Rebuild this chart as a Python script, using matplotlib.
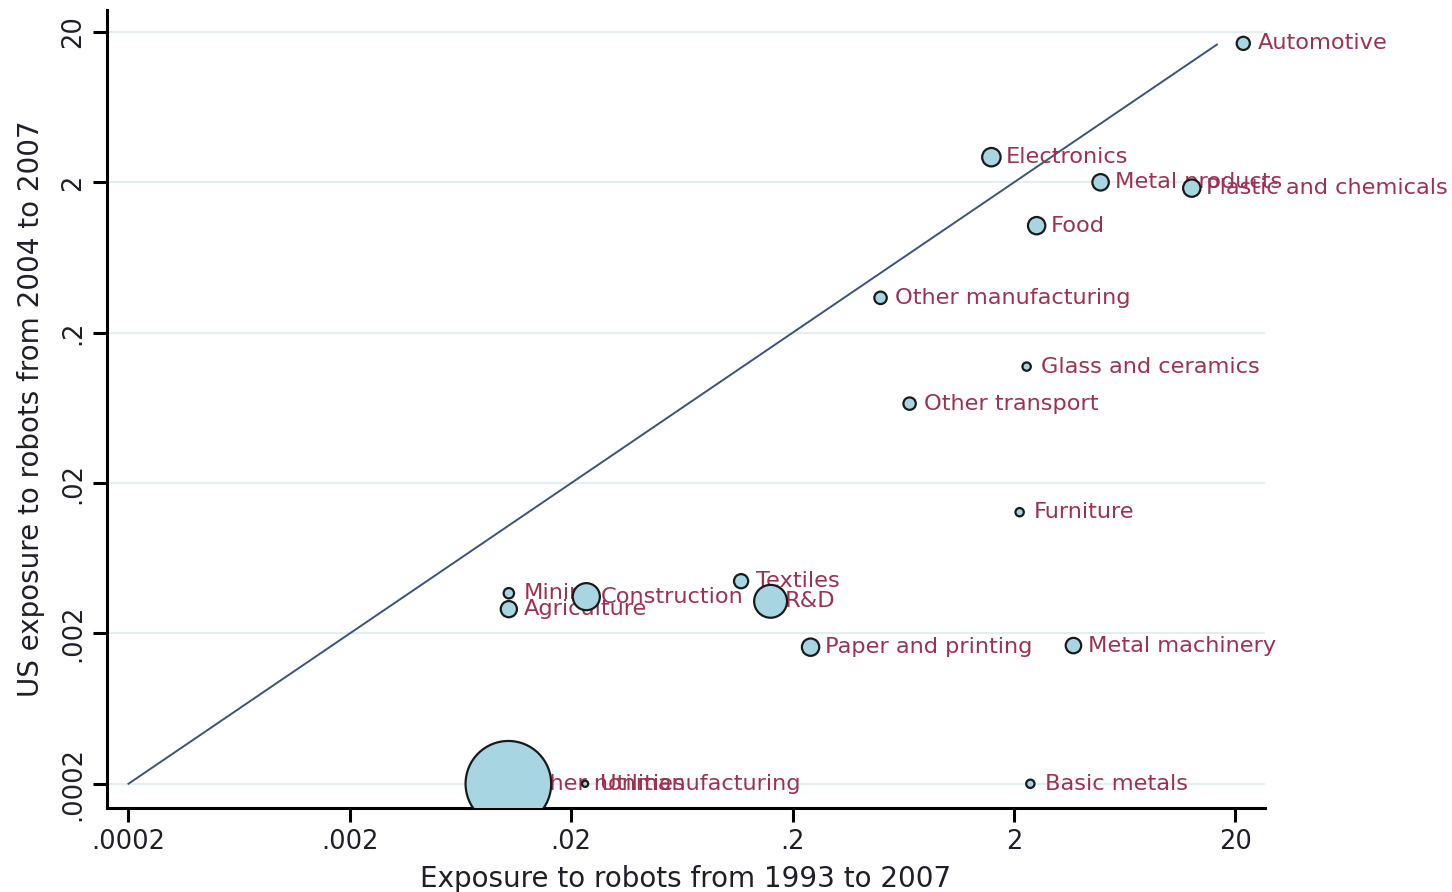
import matplotlib
matplotlib.use("Agg")
import matplotlib.pyplot as plt
from matplotlib.ticker import FixedLocator, FixedFormatter, NullLocator
import numpy as np

# industries, exposure 1993-2007 (x), US exposure 2004-2007 (y), employment weight
industries = ["Automotive", "Electronics", "Metal products", "Plastic and chemicals",
              "Food", "Other manufacturing", "Glass and ceramics", "Other transport",
              "Furniture", "Textiles", "R&D", "Construction", "Mining", "Agriculture",
              "Paper and printing", "Metal machinery", "Basic metals",
              "Other nonmanufacturing", "Utilities"]
exposure_93_07 = [21.7, 1.58, 4.92, 12.7, 2.53, 0.499, 2.28, 0.675, 2.12, 0.117,
                  0.159, 0.0234, 0.01045, 0.01045, 0.241, 3.71, 2.37, 0.0104, 0.0231]
us_exposure_04_07 = [16.8, 2.94, 2.0, 1.83, 1.03, 0.341, 0.119, 0.0675, 0.0128, 0.00445,
                     0.00327, 0.00351, 0.0037, 0.0029, 0.00162, 0.00166, 0.0002,
                     0.0002, 0.0002]
weight = [45, 88, 70, 78, 78, 40, 18, 40, 18, 52, 280, 190, 28, 68, 78, 62, 18,
          1900, 10]

ticks = [0.0002, 0.002, 0.02, 0.2, 2, 20]
tick_labels = [".0002", ".002", ".02", ".2", "2", "20"]

label_color = "#a0304f"
text_color = "#1f1f2a"

fig = plt.figure(figsize=(14.52, 8.92), dpi=100)
ax = fig.add_axes([107 / 1452, 1 - 808 / 892, (1265 - 107) / 1452, (808 - 10) / 892])

ax.set_xscale("log")
ax.set_yscale("log")
ax.set_xlim(1.6e-4, 27.2)
ax.set_ylim(1.38e-4, 28.0)

# gridlines at the major ticks
for t in ticks:
    ax.axhline(t, color="#e4edf0", lw=1.6, zorder=0)

# 45 degree line
ax.plot([0.0002, 16.5], [0.0002, 16.5], color="#3b5578", lw=1.4, zorder=1)

# labels first, markers on top of them
for name, x, y in zip(industries, exposure_93_07, us_exposure_04_07):
    ax.annotate(name, (x, y), xytext=(10.5, 0), textcoords="offset points",
                ha="left", va="center", fontsize=16.2, color=label_color, zorder=2)

sizes = np.array(weight) * 2.0
ax.scatter(exposure_93_07, us_exposure_04_07, s=sizes, facecolor="#a8d5e2",
           edgecolor="#1a1a1a", linewidths=1.6, zorder=3)

for side in ["top", "right"]:
    ax.spines[side].set_visible(False)
ax.spines["left"].set_linewidth(2.2)
ax.spines["bottom"].set_linewidth(2.2)

ax.xaxis.set_major_locator(FixedLocator(ticks))
ax.xaxis.set_major_formatter(FixedFormatter(tick_labels))
ax.yaxis.set_major_locator(FixedLocator(ticks))
ax.yaxis.set_major_formatter(FixedFormatter(tick_labels))
ax.xaxis.set_minor_locator(NullLocator())
ax.yaxis.set_minor_locator(NullLocator())
ax.tick_params(axis="both", which="major", length=10, width=2.2, color="black",
               labelsize=18.5, labelcolor=text_color, pad=5)
for lab in ax.get_yticklabels():
    lab.set_rotation(90)
    lab.set_va("center")

ax.set_xlabel("Exposure to robots from 1993 to 2007", fontsize=20, color=text_color,
              labelpad=7)
ax.set_ylabel("US exposure to robots from 2004 to 2007", fontsize=20, color=text_color,
              labelpad=11)

fig.savefig("out.png", dpi=100, facecolor="white")
